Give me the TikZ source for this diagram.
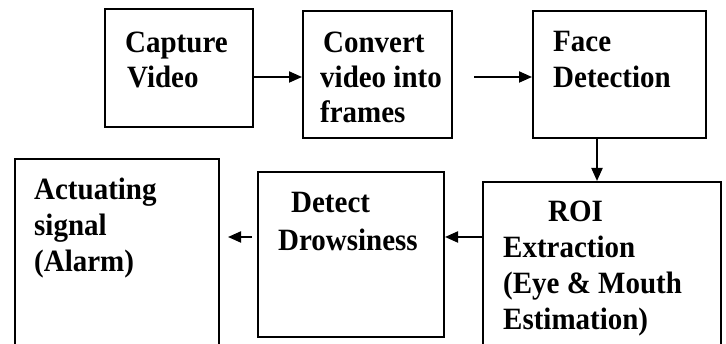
\documentclass[tikz,border=0pt]{standalone}
\usepackage{fontspec}
\setmainfont{Liberation Serif}
\newfontfamily\lblfont[FakeStretch=0.935]{Liberation Serif}
\usetikzlibrary{arrows.meta}
\begin{document}
\begin{tikzpicture}[x=1pt,y=-1pt,
  box/.style={draw=black,line width=2pt,inner sep=0pt,minimum width=#1},
  lbl/.style={anchor=base west,inner sep=0pt,align=left,font=\lblfont\fontsize{31}{36}\selectfont\bfseries},
  arr/.style={line width=2pt,-{Triangle[length=13pt,width=11pt]}}]
\useasboundingbox (0,0) rectangle (726,344);
\clip (0,0) rectangle (726,344);
% boxes
\node[box=148pt,minimum height=118pt] (b1) at (179,68) {};
\node[box=149pt,minimum height=127pt] (b2) at (377.5,74.5) {};
\node[box=173pt,minimum height=127pt] (b3) at (619.5,74.5) {};
\node[box=238pt,minimum height=180pt] (b4) at (602,272) {};
\node[box=186pt,minimum height=165pt] (b5) at (351,254.5) {};
\node[box=204pt,minimum height=200pt] (b6) at (117,259) {};
% texts (anchored at the baseline of their last line)
\node[lbl] (t1) at (125,88) {Capture\\[-1pt]\hspace{2pt}Video};
\node[lbl] (t2) at (320,123) {\hspace{3pt}Convert\\[-1pt]video into\\[-1pt]frames};
\node[lbl] (t3) at (553,88) {Face\\Detection};
\node[lbl] (t6) at (34,272) {Actuating\\signal\\(Alarm)};
\node[lbl] (t5) at (278,251) {\hspace{13pt}Detect\\[2pt]Drowsiness};
\node[lbl] (t4) at (503,330) {\hspace{45pt}ROI\\Extraction\\(Eye \& Mouth\\Estimation)};
% connectors
\coordinate (r1) at (0,77);
\coordinate (r2) at (0,237);
\coordinate (c1) at (597,0);
\draw[arr] (b1.east |- r1) -- (b2.west |- r1);
\draw[arr] ([xshift=21pt]b2.east |- r1) -- (b3.west |- r1);
\draw[arr] (b3.south -| c1) -- (b4.north -| c1);
\draw[arr] (b4.west |- r2) -- (b5.east |- r2);
\draw[arr] ([xshift=-5pt]b5.west |- r2) -- ([xshift=8pt]b6.east |- r2);
\end{tikzpicture}
\end{document}
